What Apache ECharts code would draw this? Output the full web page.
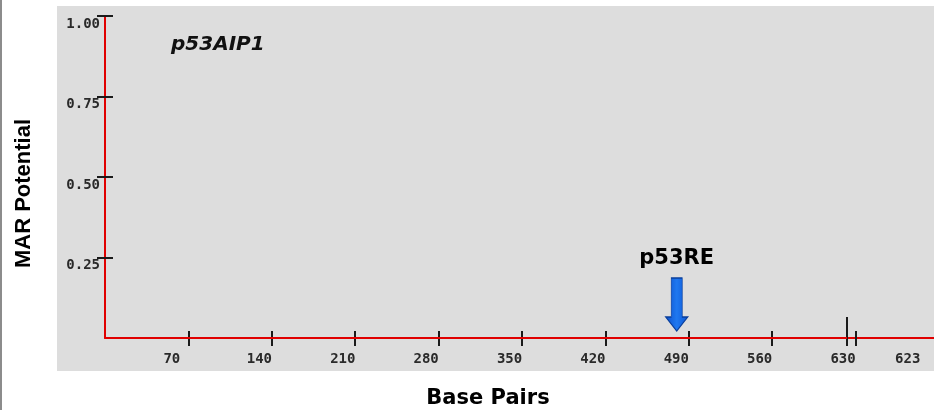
<!DOCTYPE html>
<html>
<head>
<meta charset="utf-8">
<script src="https://cdn.jsdelivr.net/npm/echarts@6/dist/echarts.min.js"></script>
<style>
  html, body { margin: 0; padding: 0; background: #ffffff; }
  #chart { width: 934px; height: 410px; }
</style>
</head>
<body>
<div id="chart"></div>
<script>
// ---- data ----
const basePairs = [0, 70, 140, 210, 280, 350, 420, 490, 560, 623];
const marPotential = [0, 0, 0, 0, 0, 0, 0, 0, 0, 0];
const xTickValues = [70, 140, 210, 280, 350, 420, 490, 560, 630];
const yTickValues = [0.25, 0.5, 0.75, 1.0];
const sequenceLength = 623;
const p53REPosition = 480;
const geneName = 'p53AIP1';
const siteName = 'p53RE';

const lineData = basePairs.map((bp, i) => [bp, marPotential[i]]);

const tickFont = 'DejaVu Sans Mono';
const tickColor = '#2a2a2a';
const xMax = 696;

const chart = echarts.init(document.getElementById('chart'), null, { renderer: 'canvas' });

const option = {
  backgroundColor: '#ffffff',
  animation: false,
  graphic: [
    { type: 'rect', z: -100, shape: { x: 57, y: 6, width: 877, height: 365 }, style: { fill: '#dddddd' }, silent: true },
    { type: 'rect', z: -100, shape: { x: 0, y: 0, width: 2, height: 410 }, style: { fill: '#8c8c8c' }, silent: true }
  ],
  title: {
    text: geneName,
    left: 171,
    top: 35,
    padding: 0,
    textStyle: { fontFamily: 'DejaVu Sans', fontStyle: 'italic', fontWeight: 'bold', fontSize: 20, color: '#111111' }
  },
  grid: { left: 105, right: 0, top: 16, bottom: 72, containLabel: false, outerBoundsMode: 'none' },
  xAxis: [
    {
      type: 'value', min: 0, max: xMax, position: 'bottom',
      axisLine: { show: true, onZero: false, lineStyle: { color: '#e00000', width: 2 } },
      axisTick: { show: true, customValues: xTickValues, inside: true, length: 7, lineStyle: { color: '#1a1a1a', width: 2 } },
      axisLabel: {
        show: true, customValues: xTickValues, margin: 14,
        formatter: v => '{t|' + v + '}',
        rich: { t: { width: 50, align: 'left', fontFamily: tickFont, fontWeight: 'bold', fontSize: 14, color: tickColor } }
      },
      splitLine: { show: false },
      name: 'Base Pairs', nameLocation: 'middle', nameGap: 50,
      nameTextStyle: { fontFamily: 'DejaVu Sans', fontWeight: 'bold', fontSize: 21, color: '#000000', padding: [0, 63, 0, 0] }
    },
    {
      type: 'value', min: 0, max: xMax, position: 'bottom',
      axisLine: { show: false, onZero: false },
      axisTick: { show: true, customValues: xTickValues.concat([sequenceLength]), inside: false, length: 8, lineStyle: { color: '#1a1a1a', width: 2 } },
      axisLabel: { show: false },
      splitLine: { show: false }
    },
    {
      type: 'value', min: 0, max: xMax, position: 'bottom',
      axisLine: { show: false, onZero: false },
      axisTick: { show: true, customValues: [sequenceLength], inside: true, length: 21, lineStyle: { color: '#1a1a1a', width: 2 } },
      axisLabel: {
        show: true, customValues: [sequenceLength], margin: 14, align: 'left',
        formatter: v => '{t|' + v + '}',
        rich: { t: { padding: [0, 0, 0, 48], fontFamily: tickFont, fontWeight: 'bold', fontSize: 14, color: tickColor } }
      },
      splitLine: { show: false }
    }
  ],
  yAxis: [
    {
      type: 'value', min: 0, max: 1, interval: 0.25, position: 'left',
      axisLine: { show: true, onZero: false, lineStyle: { color: '#e00000', width: 2 } },
      axisTick: { show: true, customValues: yTickValues, inside: true, length: 8, lineStyle: { color: '#1a1a1a', width: 2 } },
      axisLabel: {
        show: true, customValues: yTickValues, margin: 5,
        formatter: v => '{t|' + Number(v).toFixed(2) + '}',
        rich: { t: { padding: [16, 0, 0, 0], fontFamily: tickFont, fontWeight: 'bold', fontSize: 14, color: tickColor } }
      },
      splitLine: { show: false },
      name: 'MAR Potential', nameLocation: 'middle', nameGap: 70, nameRotate: 90,
      nameTextStyle: { fontFamily: 'Liberation Sans', fontWeight: 'bold', fontSize: 22, color: '#000000', padding: [0, 33, 0, 0] }
    },
    {
      type: 'value', min: 0, max: 1, interval: 0.25, position: 'left',
      axisLine: { show: false, onZero: false },
      axisTick: { show: true, customValues: yTickValues, inside: false, length: 8, lineStyle: { color: '#1a1a1a', width: 2 } },
      axisLabel: { show: false },
      splitLine: { show: false }
    }
  ],
  series: [
    {
      type: 'line', xAxisIndex: 0, yAxisIndex: 0,
      data: lineData, showSymbol: false, symbol: 'none',
      lineStyle: { color: '#e00000', width: 2 }, z: 3
    },
    {
      type: 'scatter', xAxisIndex: 0, yAxisIndex: 0,
      data: [[p53REPosition, 0]],
      symbol: 'path://M5.5 0 L16.5 0 L16.5 39 L22 39 L11 53 L0 39 L5.5 39 Z',
      symbolSize: [22, 53], symbolKeepAspect: false, symbolOffset: [0, -33.5],
      itemStyle: {
        color: new echarts.graphic.LinearGradient(0, 0, 1, 0, [
          { offset: 0, color: '#0c50cc' }, { offset: 0.5, color: '#1f78f0' }, { offset: 1, color: '#0c56d4' }
        ]),
        borderColor: '#0a3f9c', borderWidth: 1, opacity: 1
      },
      label: {
        show: true, position: 'top', distance: 8,
        formatter: '{s|' + siteName + '}',
        rich: { s: { fontFamily: 'DejaVu Sans', fontWeight: 'bold', fontSize: 21, color: '#000000' } }
      },
      z: 5
    }
  ]
};

chart.setOption(option);
</script>
</body>
</html>
